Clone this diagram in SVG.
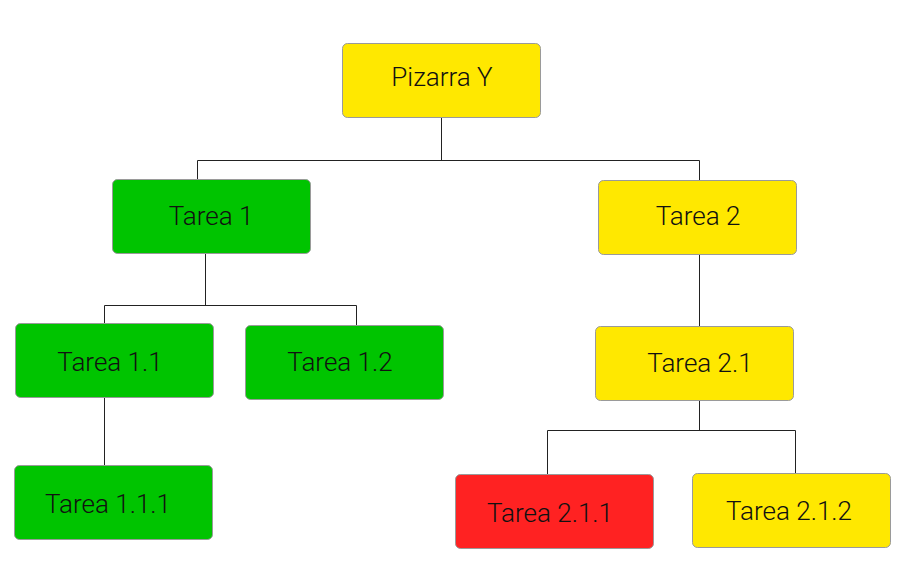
<svg xmlns="http://www.w3.org/2000/svg" width="900" height="581" viewBox="0 0 900 581">
<style>
.n rect{stroke:#9a9a9a;stroke-width:1;}
.y rect{fill:#FFE800;}
.g rect{fill:#00C400;}
.r rect{fill:#FF2222;}
.n text{font-family:"Roboto Light",Roboto,"Liberation Sans",sans-serif;font-weight:300;font-size:26px;fill:#111;text-anchor:middle;}
.c path{fill:none;stroke:#222;stroke-width:1;}
</style>
<rect width="900" height="581" fill="#fff"/>
<g class="c">
<path d="M441.5 117 V160.5 M197.5 179 V160.5 H699.5 V180"/>
<path d="M205.5 253 V305.5 M104.5 323 V305.5 H356.5 V325"/>
<path d="M104.5 397 V465"/>
<path d="M699.5 254 V326"/>
<path d="M699.5 400 V430.5 M547.5 474 V430.5 H795.5 V473"/>
</g>
<g id="pizarra" class="n y"><rect x="342.5" y="43.5" width="198" height="74" rx="5"/><text x="442" y="86">Pizarra Y</text></g>
<g id="t1" class="n g"><rect x="112.5" y="179.5" width="198" height="74" rx="5"/><text x="211" y="225">Tarea 1</text></g>
<g id="t2" class="n y"><rect x="598.5" y="180.5" width="198" height="74" rx="5"/><text x="698" y="225">Tarea 2</text></g>
<g id="t11" class="n g"><rect x="15.5" y="323.5" width="198" height="74" rx="5"/><text x="110" y="371">Tarea 1.1</text></g>
<g id="t12" class="n g"><rect x="245.5" y="325.5" width="198" height="74" rx="5"/><text x="340" y="371">Tarea 1.2</text></g>
<g id="t111" class="n g"><rect x="14.5" y="465.5" width="198" height="74" rx="5"/><text x="108" y="513">Tarea 1.1.1</text></g>
<g id="t21" class="n y"><rect x="595.5" y="326.5" width="198" height="74" rx="5"/><text x="700" y="372">Tarea 2.1</text></g>
<g id="t211" class="n r"><rect x="455.5" y="474.5" width="198" height="74" rx="5"/><text x="550" y="522">Tarea 2.1.1</text></g>
<g id="t212" class="n y"><rect x="692.5" y="473.5" width="198" height="74" rx="5"/><text x="789" y="520">Tarea 2.1.2</text></g>
</svg>
